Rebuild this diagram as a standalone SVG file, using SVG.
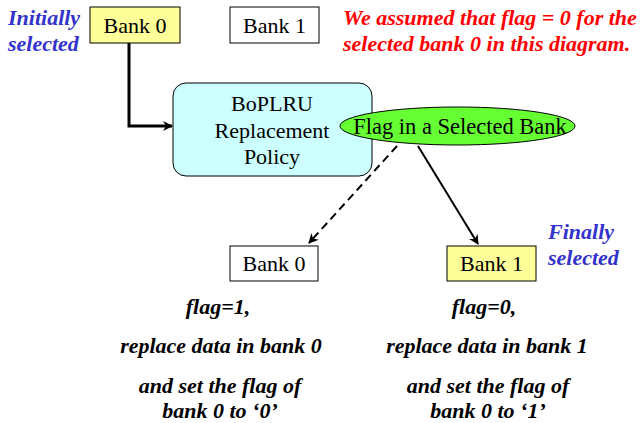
<svg xmlns="http://www.w3.org/2000/svg" width="641" height="423" viewBox="0 0 641 423">
<style>
.box{stroke:#000;stroke-width:1}
.lbl{font-size:22px;fill:#000;text-anchor:middle}
.note{font-size:22px;font-weight:bold;font-style:italic}
.blue{fill:#3333CC}
.red{fill:#FF0000}
.blk{fill:#000;text-anchor:middle}
.conn{fill:none;stroke:#000;stroke-width:2}
</style>
<defs>
<marker id="ah" markerWidth="10" markerHeight="10" refX="9" refY="5" orient="auto" markerUnits="userSpaceOnUse">
<path d="M0,0 L10,5 L0,10 L3,5 Z" fill="#000"/>
</marker>
</defs>
<rect width="641" height="423" fill="#fff"/>
<g id="connectors">
<path class="conn" d="M129,43 V126 H172" style="stroke-width:3" marker-end="url(#ah)"/>
<path class="conn" d="M397,146 L309,243" stroke-dasharray="8,5" marker-end="url(#ah)"/>
<path class="conn" d="M418,146 L478,244" marker-end="url(#ah)"/>
</g>
<g font-family="'Liberation Serif', 'DejaVu Serif', serif">
<g id="bank0-top"><rect class="box" x="90" y="7" width="90" height="36" fill="#FFFF99"/><text class="lbl" x="135" y="33">Bank 0</text></g>
<g id="bank1-top"><rect class="box" x="230" y="7" width="89" height="36" fill="#fff"/><text class="lbl" x="274.5" y="33">Bank 1</text></g>
<g id="boplru"><rect class="box" x="173" y="83" width="199" height="93" rx="13" fill="#CCFFFF"/>
<text class="lbl" x="272" y="111">BoPLRU</text><text class="lbl" x="272" y="138">Replacement</text><text class="lbl" x="272" y="164">Policy</text></g>
<g id="flag"><ellipse class="box" cx="457.5" cy="126" rx="117.5" ry="19" fill="#66FF33"/><text class="lbl" x="460" y="134" style="font-size:22.5px">Flag in a Selected Bank</text></g>
<g id="bank0-bottom"><rect class="box" x="230" y="246" width="88" height="35" fill="#fff"/><text class="lbl" x="274" y="271">Bank 0</text></g>
<g id="bank1-bottom"><rect class="box" x="447" y="246" width="89" height="35" fill="#FFFF99"/><text class="lbl" x="491.5" y="271">Bank 1</text></g>
<g id="notes">
<text class="note blue" x="8" y="25">Initially</text><text class="note blue" x="8" y="51">selected</text>
<text class="note red" x="343" y="25">We assumed that flag = 0 for the</text>
<text class="note red" x="343" y="51">selected bank 0 in this diagram.</text>
<text class="note blue" x="548" y="239">Finally</text><text class="note blue" x="548" y="265">selected</text>
<text class="note blk" x="218" y="314">flag=1,</text>
<text class="note blk" x="221" y="353">replace data in bank 0</text>
<text class="note blk" x="220" y="393">and set the flag of</text>
<text class="note blk" x="220" y="418">bank 0 to ‘0’</text>
<text class="note blk" x="484" y="314">flag=0,</text>
<text class="note blk" x="487" y="353">replace data in bank 1</text>
<text class="note blk" x="488" y="393">and set the flag of</text>
<text class="note blk" x="488" y="418">bank 0 to ‘1’</text>
</g>
</g>
</svg>
